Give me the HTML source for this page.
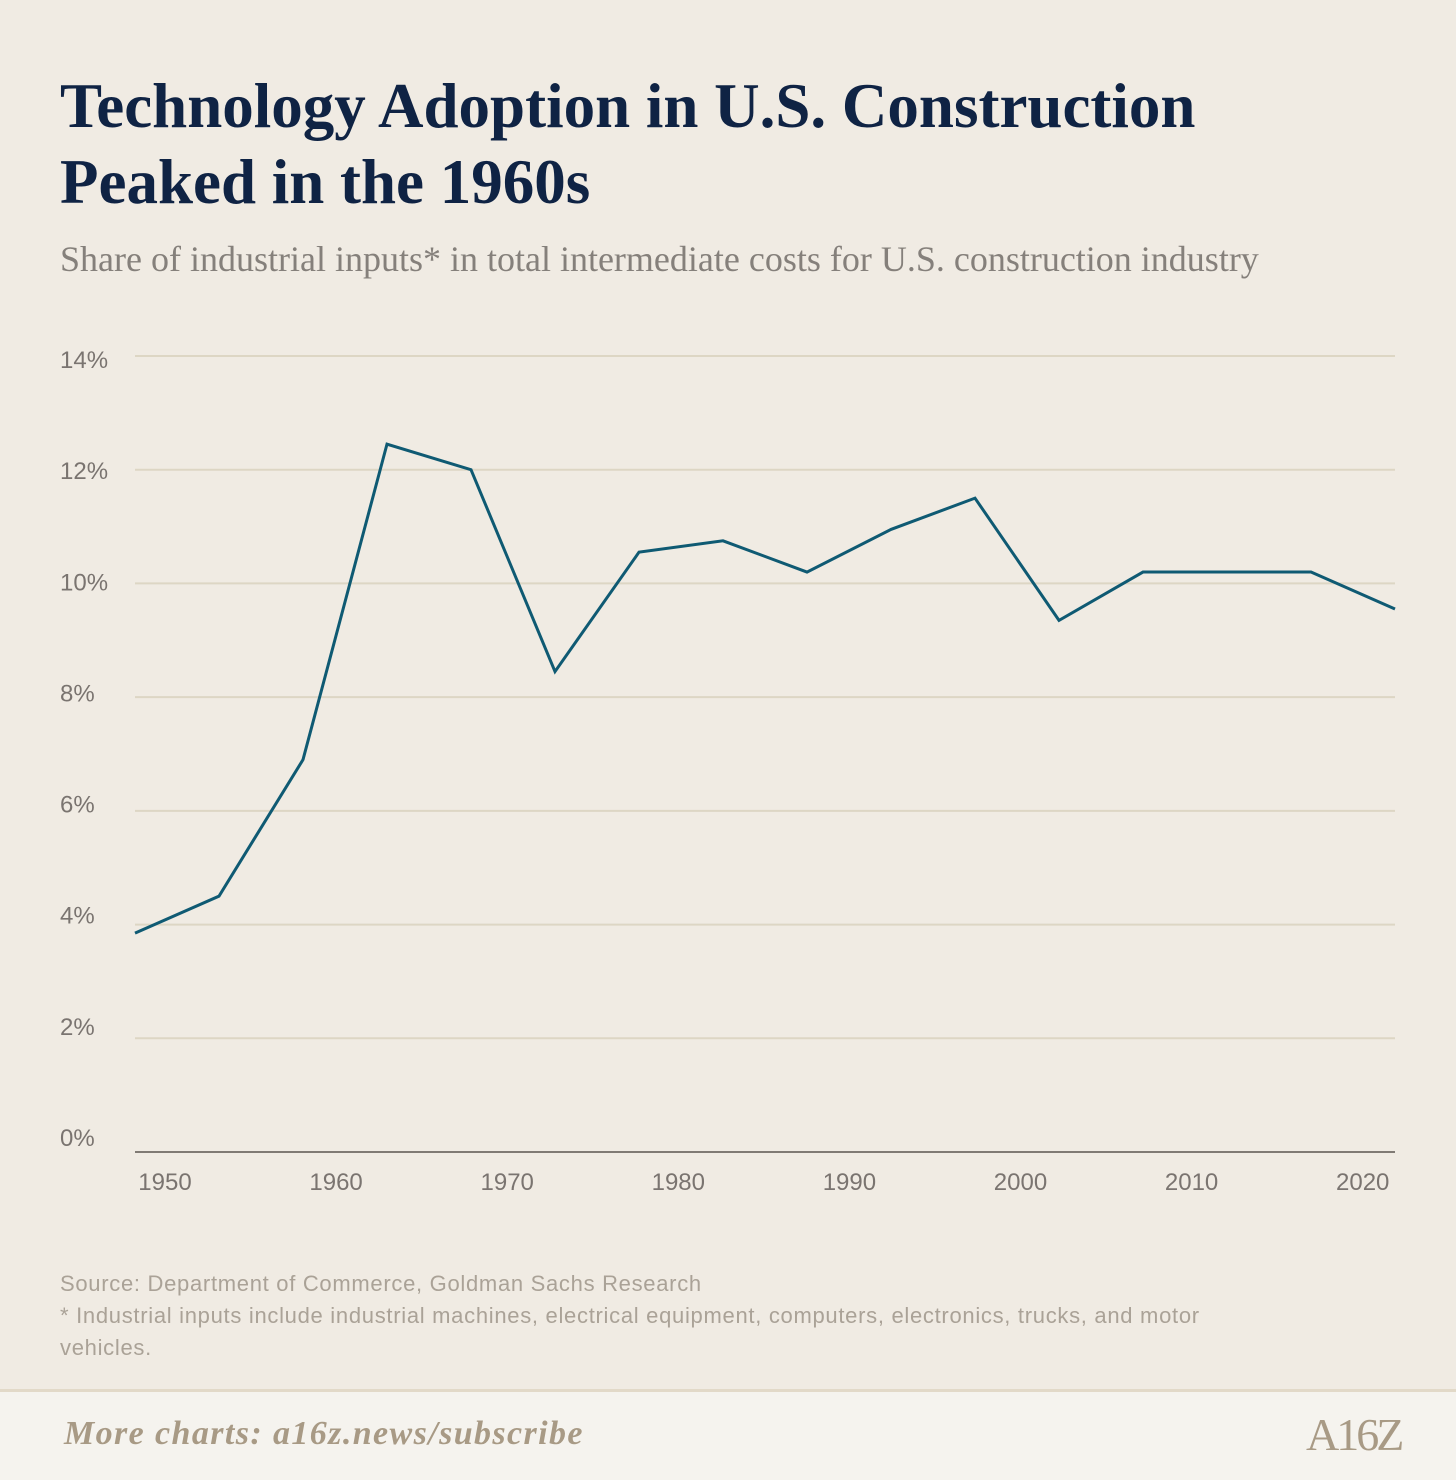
<!DOCTYPE html>
<html><head><meta charset="utf-8"><style>
body{margin:0;width:1456px;height:1477px;background:#f0ebe3;position:relative;overflow:hidden;font-family:"Liberation Sans",sans-serif}
.t{position:absolute;left:60px;margin:0}
</style></head><body>
<h1 class="t" style="top:68px;font-family:'Liberation Serif',serif;font-size:63px;line-height:76px;color:#0f2344;font-weight:bold;letter-spacing:0px">Technology Adoption in U.S. Construction<br>Peaked in the 1960s</h1>
<div class="t" style="top:238px;font-family:'Liberation Serif',serif;font-size:36px;color:#85807b;letter-spacing:0px">Share of industrial inputs* in total intermediate costs for U.S. construction industry</div>
<svg id="c" width="1456" height="1230" style="position:absolute;left:0;top:0"></svg>
<div class="t" style="top:1268px;font-size:22px;line-height:32px;color:#aaa297;width:1200px;letter-spacing:0.7px">Source: Department of Commerce, Goldman Sachs Research<br>* Industrial inputs include industrial machines, electrical equipment, computers, electronics, trucks, and motor vehicles.</div>
<div style="position:absolute;left:0;top:1389px;width:1456px;height:88px;background:#f5f3ee;border-top:3px solid #e2d9c8"></div>
<div style="position:absolute;left:64px;top:1415px;font-family:'Liberation Serif',serif;font-style:italic;font-weight:bold;font-size:34px;letter-spacing:1.4px;color:#a89a85">More charts: a16z.news/subscribe</div>
<div style="position:absolute;left:1306px;top:1408px;font-family:'Liberation Serif',serif;font-size:46px;color:#a89a85;letter-spacing:-3px">A16Z</div>
<script>
const years=[1948,1953,1958,1963,1968,1973,1978,1983,1988,1993,1998,2003,2008,2013,2018,2023];
const values=[3.85,4.5,6.9,12.45,12.0,8.45,10.55,10.75,10.2,10.95,11.5,9.35,10.2,10.2,10.2,9.55];
const yTicks=[0,2,4,6,8,10,12,14];
const xTicks=[1950,1960,1970,1980,1990,2000,2010,2020];
const svg=document.getElementById('c');const NS='http://www.w3.org/2000/svg';
const x=v=>135+(v-1948)*(1395-135)/(2023-1948);
const xl=v=>165+(v-1950)*17.11;
const y=v=>1152-v*(1152-356)/14;
function mk(t,a){const e=document.createElementNS(NS,t);for(const k in a)e.setAttribute(k,a[k]);svg.appendChild(e);return e;}
yTicks.forEach(v=>{
 const g=mk('line',{x1:135,x2:1395,y1:y(v),y2:y(v),stroke:v===0?'#5a5550':'#ddd6c4','stroke-width':v===0?1.5:2});
 
 
 const t=mk('text',{x:60,y:y(v)-6+18*v/14,'font-size':24,fill:'#7a7470','font-family':'Liberation Sans'});t.textContent=v+'%';
 
 
});
xTicks.forEach(v=>{
 const t=mk('text',{x:xl(v),y:1190,'font-size':24,fill:'#7a7470','text-anchor':'middle','font-family':'Liberation Sans'});t.textContent=v;
 
 
});
const p=mk('polyline',{points:years.map((yr,i)=>x(yr)+','+y(values[i])).join(' '),fill:'none',stroke:'#0f5a73','stroke-width':3,'stroke-linejoin':'miter'});


</script>
</body></html>
